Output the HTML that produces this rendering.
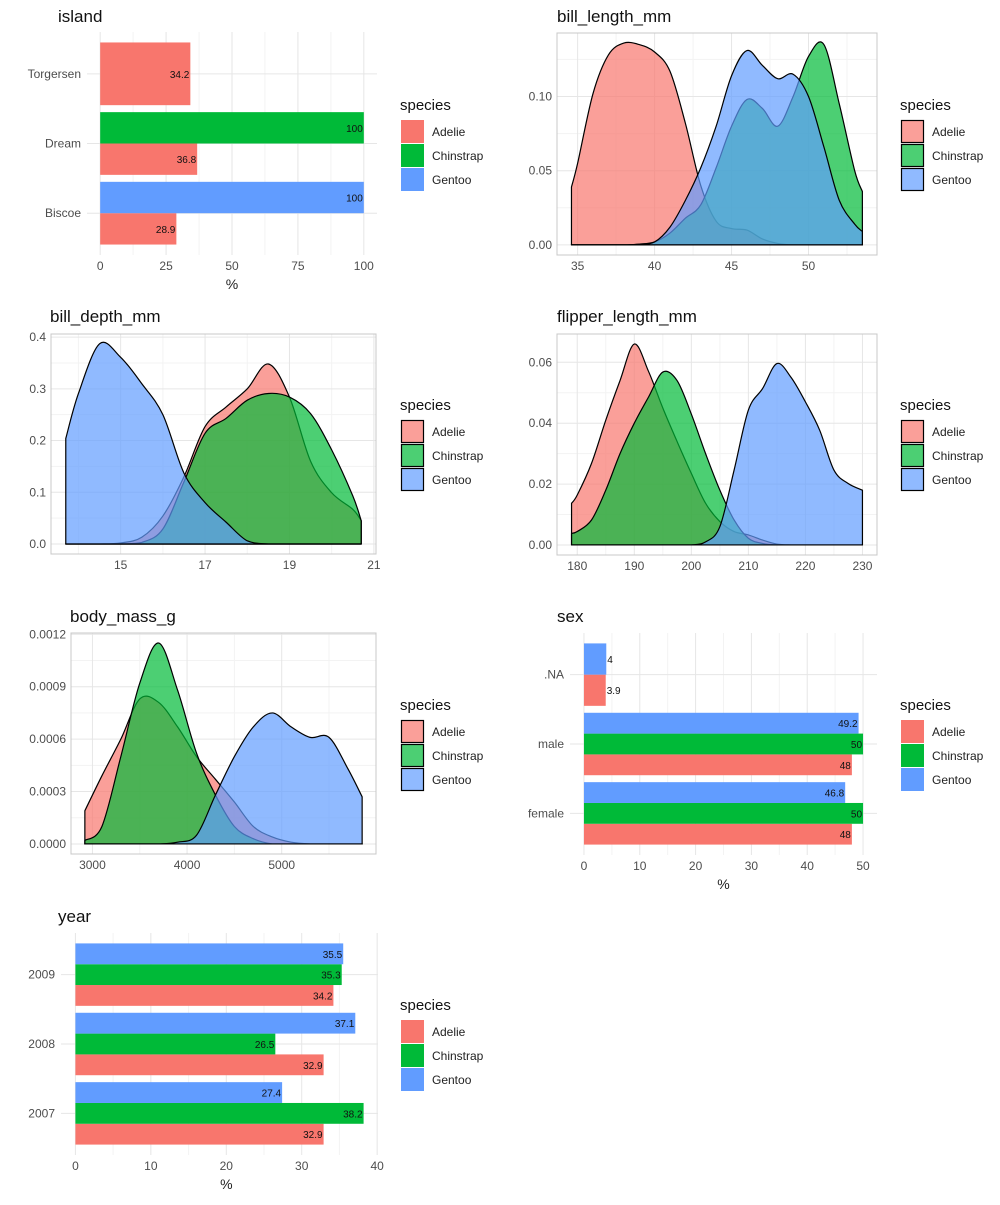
<!DOCTYPE html>
<html><head><meta charset="utf-8"><style>
body{margin:0;background:#fff}
svg text{font-family:"Liberation Sans",sans-serif}
</style></head><body>
<svg id="root" width="1000" height="1200" viewBox="0 0 1000 1200" xmlns="http://www.w3.org/2000/svg"></svg>
<script>
// ---------- data ----------
const species = ["Adelie","Chinstrap","Gentoo"];
const speciesColors = ["#F8766D","#00BA38","#619CFF"];

const islandCats = ["Biscoe","Dream","Torgersen"];
const islandAdelie = [28.9,36.8,34.2];
const islandChinstrap = [null,100,null];
const islandGentoo = [100,null,null];
const islandTicks = [0,25,50,75,100];

const sexCats = ["female","male",".NA"];
const sexAdelie = [48,48,3.9];
const sexChinstrap = [50,50,null];
const sexGentoo = [46.8,49.2,4];
const sexTicks = [0,10,20,30,40,50];

const yearCats = ["2007","2008","2009"];
const yearAdelie = [32.9,32.9,34.2];
const yearChinstrap = [38.2,26.5,35.3];
const yearGentoo = [27.4,37.1,35.5];
const yearTicks = [0,10,20,30,40];

const billLenX = [34.6,35,36,37,38,39,40,41,42,43,44,45,46,47,48,49,50,51,52,53,53.5];
const billLenAdelie = [0.039,0.055,0.102,0.128,0.136,0.135,0.130,0.117,0.082,0.040,0.016,0.011,0.010,0.004,0.001,0,0,0,0,0,0];
const billLenChinstrap = [0,0,0,0,0,0.0005,0.002,0.008,0.018,0.027,0.052,0.080,0.098,0.092,0.080,0.100,0.127,0.135,0.095,0.05,0.036];
const billLenGentoo = [0,0,0,0,0,0.0005,0.002,0.012,0.030,0.052,0.080,0.114,0.131,0.121,0.112,0.115,0.100,0.066,0.030,0.014,0.009];
const billLenXTicks = [35,40,45,50];
const billLenYTicks = [0,0.05,0.10];

const billDepX = [13.7,14,14.5,15,15.5,16,16.5,17,17.5,18,18.5,19,19.5,20,20.5,20.7];
const billDepAdelie = [0,0,0,0.002,0.013,0.054,0.13,0.227,0.265,0.300,0.348,0.284,0.160,0.099,0.067,0.045];
const billDepChinstrap = [0,0,0,0,0.003,0.029,0.12,0.214,0.243,0.278,0.291,0.284,0.252,0.182,0.093,0.045];
const billDepGentoo = [0.204,0.291,0.387,0.361,0.31,0.25,0.137,0.080,0.042,0.006,0,0,0,0,0,0];
const billDepXTicks = [15,17,19,21];
const billDepYTicks = [0,0.1,0.2,0.3,0.4];

const flipX = [179,180,182.5,185,187.5,190,192.5,195,197.5,200,202.5,205,207.5,210,212.5,215,217.5,220,222.5,225,227.5,230];
const flipAdelie = [0.0137,0.0164,0.0268,0.041,0.054,0.066,0.057,0.045,0.034,0.0235,0.0137,0.0077,0.0044,0.0033,0.0016,0.0003,0,0,0,0,0,0];
const flipChinstrap = [0.0038,0.0044,0.0082,0.018,0.030,0.040,0.0486,0.0568,0.054,0.043,0.030,0.018,0.0082,0.0022,0.0005,0,0,0,0,0,0,0];
const flipGentoo = [0,0,0,0,0,0,0,0,0,0,0.001,0.006,0.0246,0.0443,0.0514,0.0596,0.055,0.047,0.0377,0.0246,0.0202,0.018];
const flipXTicks = [180,190,200,210,220,230];
const flipYTicks = [0,0.02,0.04,0.06];

const massX = [2920,3100,3300,3500,3700,3900,4100,4300,4500,4700,4900,5100,5300,5500,5700,5850];
const massAdelie = [0.00019,0.00039,0.0006,0.00083,0.00081,0.00067,0.0005,0.00037,0.00024,0.0001,0.00004,0.00001,0,0,0,0];
const massChinstrap = [0.00002,0.0001,0.0005,0.00092,0.00115,0.00088,0.00052,0.00028,0.0001,0.00003,0,0,0,0,0,0];
const massGentoo = [0,0,0,0,0,0.00001,0.00005,0.00028,0.0005,0.00067,0.00075,0.00067,0.00061,0.00061,0.00043,0.00027];
const massXTicks = [3000,4000,5000];
const massYTicks = [0,0.0003,0.0006,0.0009,0.0012];

// ---------- helpers ----------
const NS="http://www.w3.org/2000/svg";
const root=document.getElementById('root');
function mk(tag,attrs,parent,text){const e=document.createElementNS(NS,tag);for(const k in attrs)e.setAttribute(k,attrs[k]);if(text!==undefined)e.textContent=text;(parent||root).appendChild(e);return e;}
function lin(d0,d1,r0,r1){return v=>r0+(v-d0)/(d1-d0)*(r1-r0);}

function title(txt,x,y,name){
  const t=mk('text',{x:x,y:y,'font-size':17,fill:'#111'},root,txt);
  
  
}

function legend(x,y,density,name){
  const g=mk('g',{});
  
  
  const t=mk('text',{x:x,y:y+6,'font-size':15,fill:'#111'},g,'species');
  
  
  species.forEach((s,i)=>{
    const ky=y+16+i*24;
    const e=mk('g',{},g);
    
    
    if(density){
      mk('rect',{x:x+1.5,y:ky+0.5,width:22,height:22,fill:speciesColors[i],'fill-opacity':0.7,stroke:'#000','stroke-width':1.2},e);
    }else{
      mk('rect',{x:x+1,y:ky,width:23,height:23,fill:speciesColors[i]},e);
    }
    mk('text',{x:x+32,y:ky+16,'font-size':12,fill:'#222'},e,s);
  });
}

function fmt(v){return String(v);}

function barPanel(o){
  const g=mk('g',{});
  
  
  const sx=lin(o.xdom[0],o.xdom[1],o.x0,o.x1);
  const n=o.cats.length;
  const sy=lin(0.4,n+0.6,o.y1,o.y0);
  // minor grid
  for(let i=0;i<o.ticks.length-1;i++){
    const m=(o.ticks[i]+o.ticks[i+1])/2;
    mk('line',{x1:sx(m),x2:sx(m),y1:o.y0,y2:o.y1,stroke:'#f3f3f3','stroke-width':1},g);
  }
  o.ticks.forEach(t=>{
    mk('line',{x1:sx(t),x2:sx(t),y1:o.y0,y2:o.y1,stroke:'#e6e6e6','stroke-width':1},g);
    const tl=mk('text',{x:sx(t),y:o.y1+15,'font-size':12,fill:'#4d4d4d','text-anchor':'middle'},g,fmt(t));
    
    
  });
  o.cats.forEach((c,ci)=>{
    const cy=sy(ci+1);
    mk('line',{x1:o.x0,x2:o.x1,y1:cy,y2:cy,stroke:'#e6e6e6','stroke-width':1},g);
    const tl=mk('text',{x:o.x0-6,y:cy+4,'font-size':12,fill:'#4d4d4d','text-anchor':'end'},g,c);
    
    
  });
  const ax=mk('text',{x:(sx(o.ticks[0])+sx(o.ticks[o.ticks.length-1]))/2,y:o.y1+34,'font-size':14,fill:'#222','text-anchor':'middle'},g,'%');
  
  
  const unit=sy(1)-sy(2);
  o.cats.forEach((c,ci)=>{
    const present=[];
    o.series.forEach((arr,si)=>{if(arr[ci]!==null&&arr[ci]!==undefined)present.push(si);});
    const w=0.9/present.length;
    present.forEach((si,k)=>{
      const v=o.series[si][ci];
      const lo=ci+1-0.45+k*w, hi=lo+w;
      const yTop=sy(hi), yBot=sy(lo);
      const bx=sx(0), bw=sx(v)-sx(0);
      const r=mk('rect',{x:bx,y:yTop,width:bw,height:yBot-yTop,fill:speciesColors[si]},g);
      
      
      const inside=bw>30;
      const lb=mk('text',{x:inside?sx(v)-1:sx(v)+1,y:(yTop+yBot)/2+4,'font-size':10,fill:'#111','text-anchor':inside?'end':'start'},g,fmt(v));
      
      
    });
  });
}

function smoothPath(pts){
  let d='M'+pts[0][0].toFixed(2)+','+pts[0][1].toFixed(2);
  for(let i=0;i<pts.length-1;i++){
    const p0=pts[i-1]||pts[i],p1=pts[i],p2=pts[i+1],p3=pts[i+2]||p2;
    const c1=[p1[0]+(p2[0]-p0[0])/6,p1[1]+(p2[1]-p0[1])/6];
    const c2=[p2[0]-(p3[0]-p1[0])/6,p2[1]-(p3[1]-p1[1])/6];
    d+=' C'+c1[0].toFixed(2)+','+c1[1].toFixed(2)+' '+c2[0].toFixed(2)+','+c2[1].toFixed(2)+' '+p2[0].toFixed(2)+','+p2[1].toFixed(2);
  }
  return d;
}

function densityPanel(o){
  const g=mk('g',{});
  
  
  const sx=lin(o.xdom[0],o.xdom[1],o.x0,o.x1);
  const sy=lin(o.ydom[0],o.ydom[1],o.y1,o.y0);
  const xt=o.xticks, yt=o.yticks;
  const xm=[],ym=[];
  const dx=xt[1]-xt[0], dy=yt[1]-yt[0];
  for(let v=xt[0]-dx/2;v<=o.xdom[1];v+=dx) if(v>=o.xdom[0]) xm.push(v);
  for(let v=yt[0]-dy/2;v<=o.ydom[1];v+=dy) if(v>=o.ydom[0]) ym.push(v);
  xm.forEach(v=>mk('line',{x1:sx(v),x2:sx(v),y1:o.y0,y2:o.y1,stroke:'#f3f3f3'},g));
  ym.forEach(v=>mk('line',{x1:o.x0,x2:o.x1,y1:sy(v),y2:sy(v),stroke:'#f3f3f3'},g));
  xt.forEach(v=>{
    if(v>=o.xdom[0]&&v<=o.xdom[1]) mk('line',{x1:sx(v),x2:sx(v),y1:o.y0,y2:o.y1,stroke:'#e6e6e6'},g);
    const tl=mk('text',{x:sx(v),y:o.y1+15,'font-size':12,fill:'#4d4d4d','text-anchor':'middle'},g,o.xfmt(v));
    
    
  });
  yt.forEach(v=>{
    mk('line',{x1:o.x0,x2:o.x1,y1:sy(v),y2:sy(v),stroke:'#e6e6e6'},g);
    const tl=mk('text',{x:o.x0-5,y:sy(v)+4,'font-size':12,fill:'#4d4d4d','text-anchor':'end'},g,o.yfmt(v));
    
    
  });
  const base=sy(0);
  o.series.forEach((arr,si)=>{
    const pts=o.xs.map((x,i)=>[sx(x),sy(arr[i])]);
    let d=smoothPath(pts);
    d=d.replace(/([\d.]+),([\d.]+)/g,(m,a,b)=>a+','+Math.min(parseFloat(b),base).toFixed(2));
    d+=' L'+sx(o.xs[o.xs.length-1]).toFixed(2)+','+base+' L'+sx(o.xs[0]).toFixed(2)+','+base+' Z';
    const p=mk('path',{d:d,fill:speciesColors[si],'fill-opacity':0.7,stroke:'#000','stroke-width':1.2,'stroke-linejoin':'round'},g);
    
    
  });
  mk('rect',{x:o.x0,y:o.y0,width:o.x1-o.x0,height:o.y1-o.y0,fill:'none',stroke:'#c8c8c8','stroke-width':1},g);
}

// ---------- panels ----------
title('island',58,22,'island-title');
barPanel({name:'island-panel',cats:islandCats,series:[islandAdelie,islandChinstrap,islandGentoo],ticks:islandTicks,xdom:[-5,105],x0:87,x1:377,y0:32,y1:255});
legend(400,104,false,'island-legend');

title('bill_length_mm',557,22,'bill-length-title');
densityPanel({name:'bill-length-panel',xs:billLenX,series:[billLenAdelie,billLenChinstrap,billLenGentoo],xticks:billLenXTicks,yticks:billLenYTicks,xdom:[33.66,54.45],ydom:[-0.0068,0.1428],x0:557,x1:877,y0:33,y1:255,xfmt:v=>String(v),yfmt:v=>v.toFixed(2)});
legend(900,104,true,'bill-length-legend');

title('bill_depth_mm',50,322,'bill-depth-title');
densityPanel({name:'bill-depth-panel',xs:billDepX,series:[billDepAdelie,billDepChinstrap,billDepGentoo],xticks:billDepXTicks,yticks:billDepYTicks,xdom:[13.35,21.05],ydom:[-0.0194,0.406],x0:51,x1:376,y0:334,y1:554,xfmt:v=>String(v),yfmt:v=>v.toFixed(1)});
legend(400,404,true,'bill-depth-legend');

title('flipper_length_mm',557,322,'flipper-length-title');
densityPanel({name:'flipper-length-panel',xs:flipX,series:[flipAdelie,flipChinstrap,flipGentoo],xticks:flipXTicks,yticks:flipYTicks,xdom:[176.45,232.55],ydom:[-0.0033,0.0693],x0:557,x1:877,y0:334,y1:555,xfmt:v=>String(v),yfmt:v=>v.toFixed(2)});
legend(900,404,true,'flipper-length-legend');

title('body_mass_g',70,622,'body-mass-title');
densityPanel({name:'body-mass-panel',xs:massX,series:[massAdelie,massChinstrap,massGentoo],xticks:massXTicks,yticks:massYTicks,xdom:[2773.5,5996.5],ydom:[-0.0000575,0.0012075],x0:71,x1:376,y0:633,y1:854,xfmt:v=>String(v),yfmt:v=>v.toFixed(4)});
legend(400,704,true,'body-mass-legend');

title('sex',557,622,'sex-title');
barPanel({name:'sex-panel',cats:sexCats,series:[sexAdelie,sexChinstrap,sexGentoo],ticks:sexTicks,xdom:[-2.5,52.5],x0:570,x1:877,y0:633,y1:855});
legend(900,704,false,'sex-legend');

title('year',58,922,'year-title');
barPanel({name:'year-panel',cats:yearCats,series:[yearAdelie,yearChinstrap,yearGentoo],ticks:yearTicks,xdom:[-1.91,40.11],x0:61,x1:378,y0:933,y1:1155});
legend(400,1004,false,'year-legend');
</script>
</body></html>
